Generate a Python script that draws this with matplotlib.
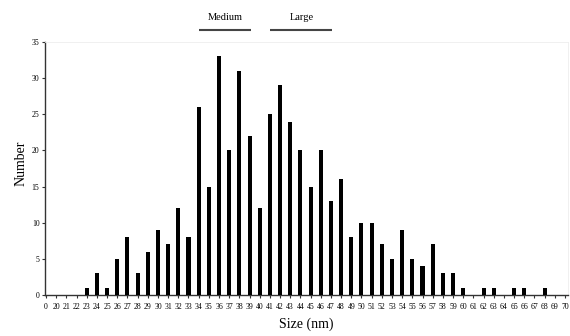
import matplotlib
matplotlib.use("Agg")
import matplotlib.pyplot as plt
import matplotlib.transforms as mtransforms

categories = ["0"] + [str(v) for v in range(20, 71)]
counts = [0, 0, 0, 0, 1, 3, 1, 5, 8, 3, 6, 9, 7, 12, 8, 26, 15, 33, 20, 31, 22,
          12, 25, 29, 24, 20, 15, 20, 13, 16, 8, 10, 10, 7, 5, 9, 5, 4, 7, 3, 3,
          1, 0, 1, 1, 0, 1, 1, 0, 1, 0, 0]
y_ticks = [0, 5, 10, 15, 20, 25, 30, 35]
groups = ["Medium", "Large"]
group_start = ["34", "41"]
group_end = ["39", "47"]

plt.rcParams['font.family'] = ['Liberation Serif', 'DejaVu Serif']

fig = plt.figure(figsize=(5.7, 3.36), dpi=100)
ax = fig.add_axes([0.079, 0.122, 0.9175, 0.753])

x = list(range(len(categories)))
ax.bar(x, counts, width=0.4, color='black', zorder=3)

ax.set_xlim(-0.1, 51.3)
ax.set_ylim(0, 35)
ax.set_xticks(x)
ax.set_xticklabels(categories, fontsize=5.6)
ax.set_yticks(y_ticks)
ax.set_yticklabels([str(v) for v in y_ticks], fontsize=5.6)
ax.tick_params(axis='x', length=2.5, width=0.8, pad=3, color='#333333')
ax.tick_params(axis='y', length=2, width=0.8, pad=2, color='#333333')

for s in ['top', 'right']:
    ax.spines[s].set_color('#eeeeee')
    ax.spines[s].set_linewidth(0.6)
for s in ['left', 'bottom']:
    ax.spines[s].set_color('#333333')
    ax.spines[s].set_linewidth(1.0)

ax.set_ylabel("Number", fontsize=10)
ax.yaxis.set_label_coords(-0.033, 0.52)
ax.set_xlabel("Size (nm)", fontsize=10, labelpad=5)

trans = mtransforms.blended_transform_factory(ax.transData, ax.transAxes)
for name, a, b in zip(groups, group_start, group_end):
    xa = categories.index(a) + 0.05
    xb = categories.index(b) + 0.15
    ax.plot([xa, xb], [1.047, 1.047], transform=trans, color='#444444',
            lw=1.5, clip_on=False, solid_capstyle='butt')
    ax.text((xa + xb) / 2, 1.095, name, transform=trans, ha='center',
            va='center', fontsize=7.5)

fig.savefig("out.png", dpi=100)
